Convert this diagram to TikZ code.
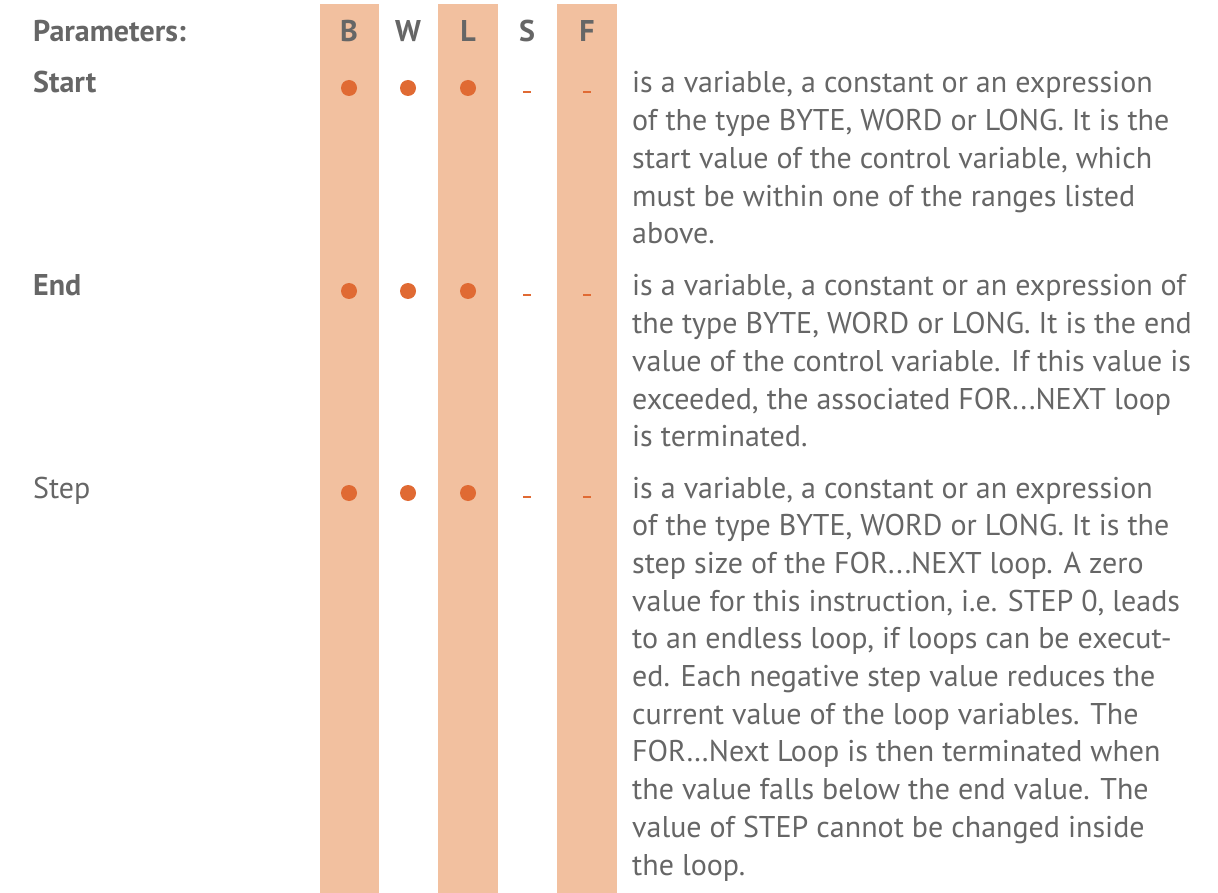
\documentclass[tikz,border=0pt]{standalone}
\usepackage{fontspec}
\setmainfont{PT Sans}
\usetikzlibrary{positioning}
\definecolor{barorange}{HTML}{F2C09F}
\definecolor{dotorange}{HTML}{E06A33}
\definecolor{textgray}{HTML}{666666}
\newcommand{\desclines}[1]{\begin{tabular}[t]{@{}l@{}}#1\end{tabular}}
\tikzset{
  desc/.style={anchor=base west,inner sep=0pt,text=textgray,
    font=\fontsize{30}{37.7}\selectfont},
  label/.style={anchor=base west,inner sep=0pt,text=textgray,
    font=\fontsize{30}{36}\selectfont},
  head/.style={anchor=base,inner sep=0pt,text=textgray,
    font=\fontsize{30}{36}\selectfont\bfseries}}

\begin{document}
\begin{tikzpicture}[x=1pt,y=-1pt,line cap=round]

  \useasboundingbox (0,0) rectangle (1218,893);

  % bars
  \fill [barorange] (320,4) rectangle (379,893);
  \fill [barorange] (438,4) rectangle (498,893);
  \fill [barorange] (557,4) rectangle (617,893);

  % header
  \node [label,font=\fontsize{30}{36}\selectfont\bfseries] (par) at (33,42) {Parameters:};
  \foreach \x/\n in {349/B,408/W,468/L,527/S,587/F}
    \node [head] (h\n) at (\x,42) {\n};

  % rows
  \node [label,font=\fontsize{30}{36}\selectfont\bfseries] (start) at (33,93) {Start};
  \node [label,font=\fontsize{30}{36}\selectfont\bfseries] (end) at (33,296) {End};
  \node [label] (step) at (33,498) {Step};

  \foreach \y in {88,291,493} {
    \foreach \x in {349,408,468}
      \fill [dotorange] (\x,\y) circle (8pt);
    \foreach \x in {527,587}
      \draw [dotorange,line width=2.5pt,line cap=butt] (\x-4,\y+4) -- (\x+4,\y+4);
  }

  \node [desc] (dstart) at (632,93) {\desclines{is a variable, a constant or an expression\\
    of the type BYTE, WORD or LONG. It is the\\
    start value of the control variable, which\\
    must be within one of the ranges listed\\
    above.}};
  \node [desc] (dend) at (632,296) {\desclines{is a variable, a constant or an expression of\\
    the type BYTE, WORD or LONG. It is the end\\
    value of the control variable. If this value is\\
    exceeded, the associated FOR...NEXT loop\\
    is terminated.}};
  \node [desc] (dstep) at (632,498) {\desclines{is a variable, a constant or an expression\\
    of the type BYTE, WORD or LONG. It is the\\
    step size of the FOR...NEXT loop. A zero\\
    value for this instruction, i.e. STEP 0, leads\\
    to an endless loop, if loops can be execut-\\
    ed. Each negative step value reduces the\\
    current value of the loop variables. The\\
    FOR\ldots Next Loop is then terminated when\\
    the value falls below the end value. The\\
    value of STEP cannot be changed inside\\
    the loop.}};

\end{tikzpicture}
\end{document}
